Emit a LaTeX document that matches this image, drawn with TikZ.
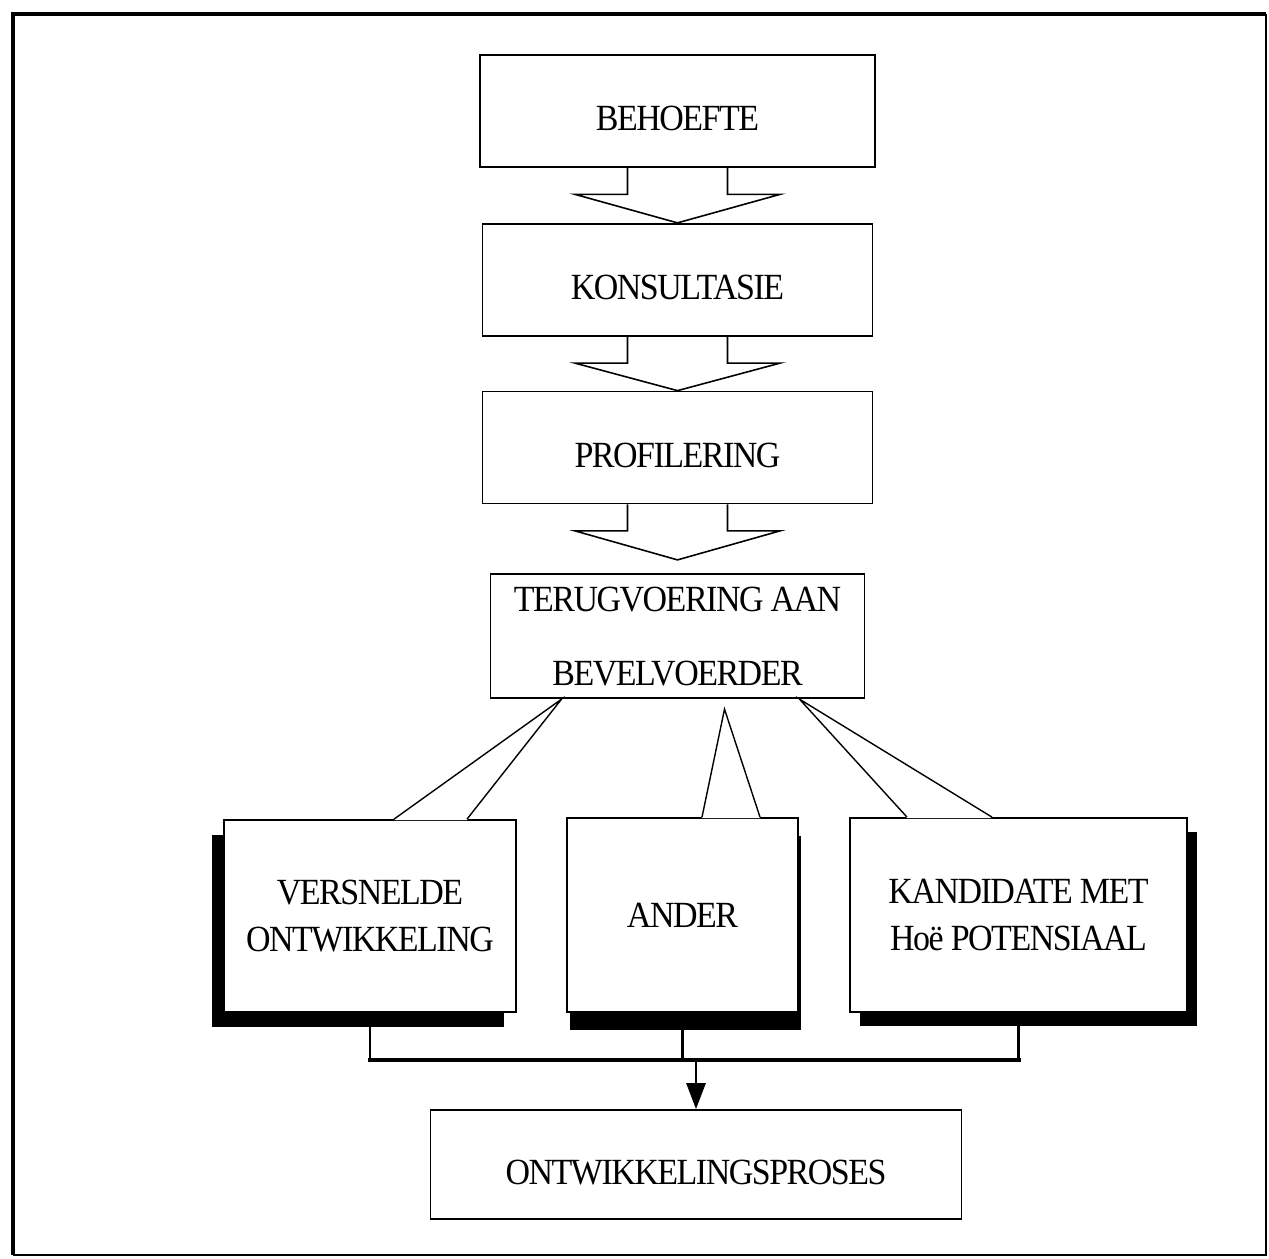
\documentclass[tikz,border=0pt]{standalone}
\usepackage{fontspec}
\newfontfamily\boxfont{Liberation Serif}[LetterSpace=-4, FakeStretch=0.92]
\usepackage{tikz}
\usetikzlibrary{arrows.meta,positioning,shadows,calc}

\begin{document}
\begin{tikzpicture}[
  stage/.style={rectangle, draw=black, line width=1pt, fill=white, align=center,
    font=\boxfont\fontsize{21}{27}\selectfont},
  flatbox/.style={stage, text height=0.8cm, text depth=0pt},
  callbox/.style={stage, inner sep=0pt},
  blockarrow/.style={line width=0.9pt, line join=miter},
  pointer/.style={line width=0.8pt},
  bus/.style={line width=1.6pt},
  arrow/.style={-{Triangle[width=3.8mm,length=5.2mm]}, line width=1.6pt},
]
  \useasboundingbox (0,0) rectangle (25.38,25.16);

  % outer frame
  \draw[line width=2.6pt] (0.26,0.06) -- (0.26,24.88) -- (25.32,24.88);
  \draw[line width=1.4pt] (25.32,24.88) -- (25.32,0.06) -- (0.26,0.06);

  % main chain
  \node[flatbox, minimum width=7.9cm, minimum height=2.24cm] (b1) at (13.55,22.94) {BEHOEFTE};
  \node[flatbox, minimum width=7.8cm, minimum height=2.24cm, below=1.10cm of b1] (b2) {KONSULTASIE};
  \node[flatbox, minimum width=7.8cm, minimum height=2.24cm, below=1.08cm of b2] (b3) {PROFILERING};
  \node[stage, minimum width=7.48cm, minimum height=2.48cm, below=1.38cm of b3] (b4)
    {TERUGVOERING AAN\\[15pt]BEVELVOERDER};

  \foreach \from/\to/\gap in {b1/b2/0, b2/b3/0, b3/b4/0.27}
    \draw[blockarrow] ([xshift=-1cm]\from.south) -- ([xshift=-1cm,yshift=-0.53cm]\from.south)
      -- ([xshift=-2.05cm,yshift=-0.53cm]\from.south) -- ($(\from.south |- \to.north)+(0,\gap)$)
      -- ([xshift=2.05cm,yshift=-0.53cm]\from.south) -- ([xshift=1cm,yshift=-0.53cm]\from.south)
      -- ([xshift=1cm]\from.south);

  % the three outcomes
  \node[callbox, minimum width=5.84cm, minimum height=3.84cm,
    drop shadow={shadow xshift=-0.24cm, shadow yshift=-0.29cm, fill=black, opacity=1}]
    (c1) at (7.40,6.84) {VERSNELDE\\ONTWIKKELING};
  \node[callbox, minimum width=4.62cm, minimum height=3.88cm,
    drop shadow={shadow xshift=0.06cm, shadow yshift=-0.36cm, fill=black, opacity=1}]
    (c2) at (13.65,6.86) {ANDER};
  \node[callbox, minimum width=6.74cm, minimum height=3.88cm,
    drop shadow={shadow xshift=0.20cm, shadow yshift=-0.28cm, fill=black, opacity=1}]
    (c3) at (20.37,6.86) {KANDIDATE MET\\Hoë POTENSIAAL};

  \coordinate (p1) at ([xshift=-2.32cm]b4.south);
  \coordinate (p2) at ([xshift=0.94cm,yshift=-0.2cm]b4.south);
  \coordinate (p3) at ([xshift=2.44cm]b4.south);

  \foreach \cb/\tip/\lx/\rx in {c1/p1/0.48/1.94, c2/p2/0.39/1.55, c3/p3/-2.23/-0.53} {
    \fill[white] ([xshift=\lx cm,yshift=-0.6pt]\cb.north) -- (\tip) -- ([xshift=\rx cm,yshift=-0.6pt]\cb.north) -- cycle;
    \draw[pointer] ([xshift=\lx cm]\cb.north) -- (\tip) -- ([xshift=\rx cm]\cb.north);
  }

  % gathering line
  \coordinate (join) at (13.92,3.96);
  \node[flatbox, minimum width=10.62cm, minimum height=2.18cm] (d) at (13.92,1.87) {ONTWIKKELINGSPROSES};

  \draw[bus] (c1.south) -- (c1.south |- join);
  \draw[bus] (c2.south) -- (c2.south |- join);
  \draw[bus] (c3.south) -- (c3.south |- join);
  \draw[line width=2.4pt, line cap=rect] (c1.south |- join) -- (c3.south |- join);
  \draw[arrow] (join) -- (d.north);
\end{tikzpicture}
\end{document}
